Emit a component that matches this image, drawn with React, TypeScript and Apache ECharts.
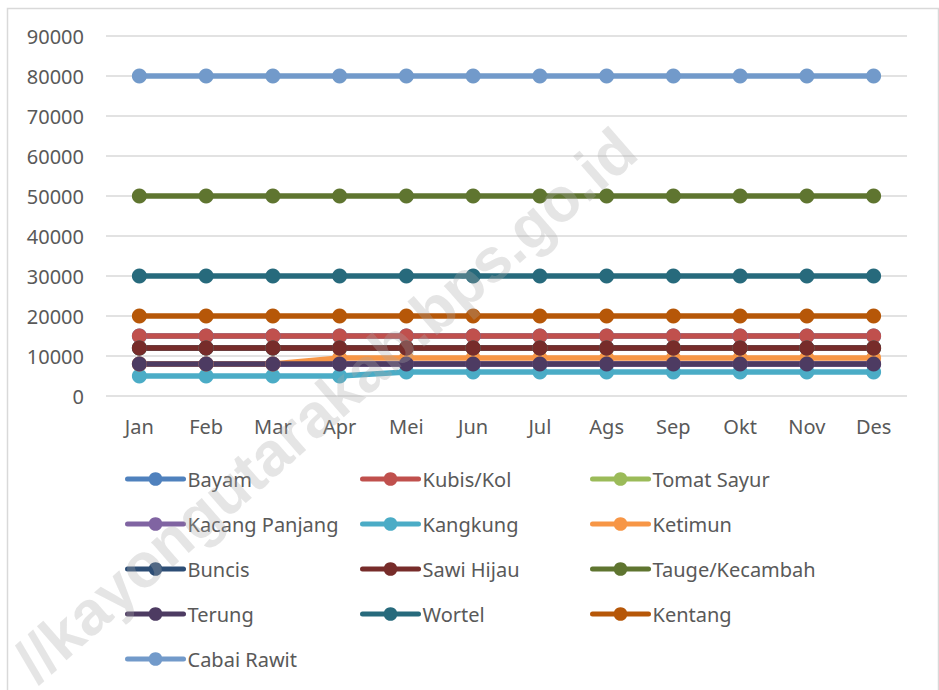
import React, { useEffect, useRef } from "react";
import * as echarts from "echarts";

const months = ["Jan", "Feb", "Mar", "Apr", "Mei", "Jun", "Jul", "Ags", "Sep", "Okt", "Nov", "Des"];

const bayam = [15000, 15000, 15000, 15000, 15000, 15000, 15000, 15000, 15000, 15000, 15000, 15000];
const kubisKol = [15000, 15000, 15000, 15000, 15000, 15000, 15000, 15000, 15000, 15000, 15000, 15000];
const tomatSayur = [12000, 12000, 12000, 12000, 12000, 12000, 12000, 12000, 12000, 12000, 12000, 12000];
const kacangPanjang = [8000, 8000, 8000, 8000, 8000, 8000, 8000, 8000, 8000, 8000, 8000, 8000];
const kangkung = [5000, 5000, 5000, 5000, 6000, 6000, 6000, 6000, 6000, 6000, 6000, 6000];
const ketimun = [8000, 8000, 8000, 9500, 9500, 9500, 9500, 9500, 9500, 9500, 9500, 9500];
const buncis = [12000, 12000, 12000, 12000, 12000, 12000, 12000, 12000, 12000, 12000, 12000, 12000];
const sawiHijau = [12000, 12000, 12000, 12000, 12000, 12000, 12000, 12000, 12000, 12000, 12000, 12000];
const taugeKecambah = [50000, 50000, 50000, 50000, 50000, 50000, 50000, 50000, 50000, 50000, 50000, 50000];
const terung = [8000, 8000, 8000, 8000, 8000, 8000, 8000, 8000, 8000, 8000, 8000, 8000];
const wortel = [30000, 30000, 30000, 30000, 30000, 30000, 30000, 30000, 30000, 30000, 30000, 30000];
const kentang = [20000, 20000, 20000, 20000, 20000, 20000, 20000, 20000, 20000, 20000, 20000, 20000];
const cabaiRawit = [80000, 80000, 80000, 80000, 80000, 80000, 80000, 80000, 80000, 80000, 80000, 80000];

const seriesNames = ["Bayam", "Kubis/Kol", "Tomat Sayur", "Kacang Panjang", "Kangkung", "Ketimun", "Buncis", "Sawi Hijau", "Tauge/Kecambah", "Terung", "Wortel", "Kentang", "Cabai Rawit"];
const seriesData = [bayam, kubisKol, tomatSayur, kacangPanjang, kangkung, ketimun, buncis, sawiHijau, taugeKecambah, terung, wortel, kentang, cabaiRawit];
const seriesColors = ["#4F81BD", "#C0504D", "#9BBB59", "#8064A2", "#4BACC6", "#F79646", "#2C4D75", "#772C2A", "#5F7530", "#4D3B62", "#276A7C", "#B65708", "#729ACA"];

const legendCol1 = ["Bayam", "Kacang Panjang", "Buncis", "Terung"];
const legendCol1b = ["Cabai Rawit"];
const legendCol2 = ["Kubis/Kol", "Kangkung", "Sawi Hijau", "Wortel"];
const legendCol3 = ["Tomat Sayur", "Ketimun", "Tauge/Kecambah", "Kentang"];

const FONT = "'Noto Sans', 'Liberation Sans', sans-serif";

export default function App() {
  const ref = useRef<HTMLDivElement>(null);
  useEffect(() => {
    if (!ref.current) return;
    const chart = echarts.init(ref.current, null, { renderer: "svg" });
    const legendBase = (left: number, top: number, data: string[]) => ({
      orient: "vertical",
      left,
      top,
      padding: 0,
      data,
      itemWidth: 56,
      itemHeight: 17,
      itemGap: 25,
      lineStyle: { width: 5, cap: "round" },
      textStyle: { fontFamily: FONT, fontSize: 20, color: "#595959", lineHeight: 16, padding: [0, 0, 0, -1] },
      selectedMode: false,
    });
    chart.setOption({
      animation: false,
      backgroundColor: "#ffffff",
      grid: { left: 106, right: 32, top: 36, bottom: 294 },
      xAxis: {
        type: "category",
        data: months,
        boundaryGap: true,
        axisLine: { show: false },
        axisTick: { show: false },
        axisLabel: { color: "#595959", fontFamily: FONT, fontSize: 20, margin: 20 },
      },
      yAxis: {
        type: "value",
        min: 0,
        max: 90000,
        interval: 10000,
        axisLine: { show: false },
        axisTick: { show: false },
        splitLine: { lineStyle: { color: "#d9d9d9", width: 1.5 } },
        axisLabel: { color: "#595959", fontFamily: FONT, fontSize: 20, margin: 22, formatter: (v: number) => String(v) },
      },
      legend: [
        legendBase(125, 469, legendCol1),
        legendBase(125, 649, legendCol1b),
        legendBase(360, 469, legendCol2),
        legendBase(590, 469, legendCol3),
      ],
      series: seriesNames.map((name, i) => ({
        name,
        type: "line",
        data: seriesData[i],
        color: seriesColors[i],
        symbol: "circle",
        symbolSize: 15,
        showSymbol: true,
        lineStyle: { width: 5.5, color: seriesColors[i], cap: "round" },
        itemStyle: { color: seriesColors[i] },
      })),
      graphic: [
        {
          type: "rect",
          left: 5,
          top: 6,
          shape: { width: 931, height: 700 },
          style: { fill: "none", stroke: "#d9d9d9", lineWidth: 1.5 },
          silent: true,
          z: -10,
        },
        {
          type: "text",
          x: 325,
          y: 405,
          rotation: 0.72,
          style: {
            text: "//kayongutarakab.bps.go.id",
            font: "bold 62px 'Liberation Sans', sans-serif",
            fill: "rgba(170,170,170,0.3)",
            textAlign: "center",
            textVerticalAlign: "middle",
          },
          silent: true,
          z: 100,
        },
      ],
    });
    return () => chart.dispose();
  }, []);
  return <div ref={ref} style={{ width: 939, height: 690, position: "absolute", left: 0, top: 0 }} />;
}
